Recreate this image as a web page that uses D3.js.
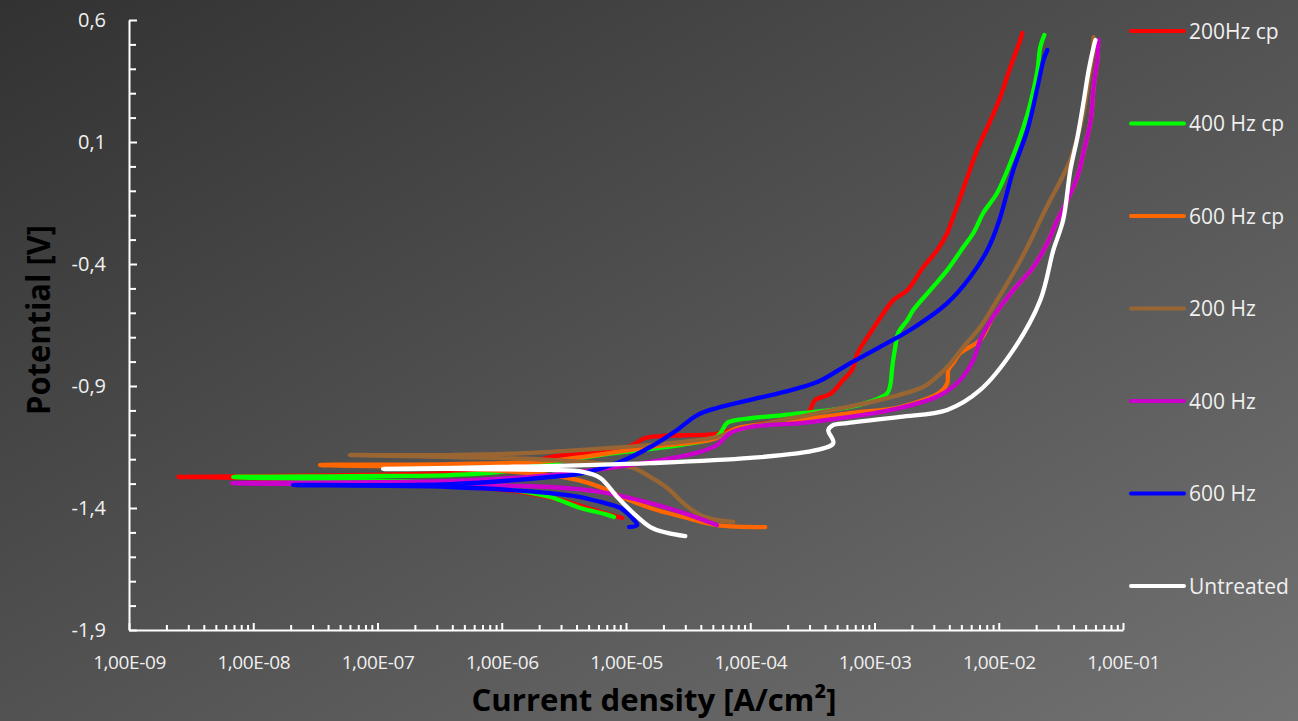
<!DOCTYPE html>
<html><head><meta charset="utf-8">
<script src="https://cdn.jsdelivr.net/npm/d3@7"></script>
<style>html,body{margin:0;padding:0;overflow:hidden;background:#444}</style>
</head><body><svg id="c" width="1298" height="721"></svg>
<script>
// ---- Data: current density [A/cm2] and potential [V], cathodic end -> Ecorr -> anodic end ----
const seriesNames = ["200Hz cp", "400 Hz cp", "600 Hz cp", "200 Hz", "400 Hz", "600 Hz", "Untreated"];
const seriesColors = ["#ff0000", "#00ff00", "#ff6600", "#996633", "#cc00cc", "#0000ff", "#ffffff"];

const cp200I = [9.3e-6, 6.2e-6, 2.95e-6, 1.41e-6, 6.7e-7, 2.2e-7, 6.0e-8, 1.64e-8, 3.7e-9, 2.5e-9,
  1.13e-8, 1.52e-7, 9.7e-7, 2.45e-6, 6.2e-6, 1.08e-5, 1.43e-5, 1.89e-5, 5.2e-5, 5.95e-5,
  1.2e-4, 2.88e-4, 3.34e-4, 4.4e-4, 5.6e-4, 6.6e-4, 7.3e-4, 8.8e-4, 1.11e-3, 1.42e-3,
  1.84e-3, 2.47e-3, 3.2e-3, 3.85e-3, 4.3e-3, 5.6e-3, 6.7e-3, 8.6e-3, 1.03e-2, 1.24e-2,
  1.49e-2, 1.55e-2];
const cp200E = [-1.441, -1.416, -1.367, -1.334, -1.318, -1.302, -1.289, -1.281, -1.273, -1.273,
  -1.269, -1.261, -1.244, -1.191, -1.170, -1.146, -1.113, -1.105, -1.097, -1.089,
  -1.056, -1.011, -0.957, -0.933, -0.875, -0.834, -0.765, -0.699, -0.621, -0.548,
  -0.507, -0.412, -0.343, -0.273, -0.207, -0.043, 0.067, 0.190, 0.284, 0.407,
  0.518, 0.547];

const cp400I = [8.0e-6, 6.8e-6, 4.3e-6, 2.45e-6, 9.7e-7, 3.84e-7, 6.0e-8, 6.9e-9,
  6.0e-8, 3.84e-7, 9.7e-7, 2.45e-6, 6.2e-6, 2.73e-5, 5.2e-5, 5.75e-5, 6.5e-5, 7.9e-5,
  1.84e-4, 6.4e-4, 1.05e-3, 1.27e-3, 1.34e-3, 1.39e-3, 1.47e-3, 1.55e-3, 1.84e-3, 2.05e-3,
  2.81e-3, 3.85e-3, 5.2e-3, 6.25e-3, 7.5e-3, 9.7e-3, 1.24e-2, 1.58e-2, 1.80e-2, 2.05e-2,
  2.16e-2, 2.33e-2];
const cp400E = [-1.437, -1.425, -1.400, -1.355, -1.318, -1.298, -1.285, -1.273,
  -1.269, -1.265, -1.252, -1.216, -1.183, -1.142, -1.113, -1.093, -1.052, -1.039,
  -1.019, -0.986, -0.953, -0.929, -0.896, -0.822, -0.740, -0.683, -0.630, -0.589,
  -0.507, -0.425, -0.330, -0.273, -0.191, -0.109, 0.014, 0.161, 0.260, 0.395,
  0.489, 0.539];

const cp600I = [1.32e-4, 5.4e-5, 2.89e-5, 1.57e-5, 8.5e-6, 6.2e-6, 4.05e-6, 2.45e-6, 3.84e-7, 3.45e-8,
  3.84e-7, 2.45e-6, 1.57e-5, 4.76e-5, 6.06e-5, 7.9e-5, 1.84e-4, 6.4e-4, 1.61e-3, 3.39e-3,
  3.85e-3, 3.93e-3, 4.3e-3, 4.9e-3, 7.1e-3, 9.0e-3, 1.31e-2, 1.9e-2, 2.46e-2, 2.96e-2,
  3.57e-2, 4.3e-2, 4.8e-2, 5.5e-2, 5.8e-2, 6.2e-2, 6.3e-2];
const cp600E = [-1.478, -1.470, -1.437, -1.400, -1.347, -1.314, -1.285, -1.265, -1.236, -1.224,
  -1.220, -1.207, -1.150, -1.121, -1.101, -1.072, -1.048, -1.011, -0.986, -0.925,
  -0.888, -0.834, -0.806, -0.765, -0.711, -0.617, -0.507, -0.412, -0.314, -0.220,
  -0.138, -0.043, 0.055, 0.190, 0.325, 0.436, 0.500];

const hz200I = [7.3e-5, 5.4e-5, 3.96e-5, 2.89e-5, 2.15e-5, 1.57e-5, 1.14e-5, 2.45e-6, 3.84e-7, 6.0e-8,
  3.84e-7, 2.45e-6, 5.4e-5, 7.9e-5, 3.46e-4, 1.11e-3, 2.47e-3, 2.97e-3, 3.85e-3, 5.2e-3,
  7.1e-3, 9.7e-3, 1.31e-2, 1.7e-2, 2.16e-2, 2.6e-2, 2.96e-2, 3.77e-2, 4.3e-2, 4.8e-2,
  5.3e-2, 5.7e-2, 5.8e-2];
const hz200E = [-1.457, -1.449, -1.429, -1.380, -1.318, -1.273, -1.236, -1.203, -1.191, -1.183,
  -1.183, -1.170, -1.109, -1.080, -1.011, -0.957, -0.904, -0.875, -0.822, -0.740,
  -0.658, -0.548, -0.437, -0.330, -0.220, -0.138, -0.084, 0.026, 0.120, 0.219,
  0.354, 0.465, 0.530];

const hz400I = [5.4e-5, 2.89e-5, 1.57e-5, 6.2e-6, 2.45e-6, 3.84e-7, 2.38e-8, 6.75e-9,
  3.84e-7, 2.45e-6, 1.57e-5, 3.96e-5, 5.4e-5, 6.9e-5, 1.0e-4, 3.04e-4, 1.61e-3, 3.39e-3,
  4.9e-3, 6.25e-3, 7.1e-3, 9.0e-3, 1.31e-2, 1.9e-2, 2.46e-2, 2.96e-2, 3.57e-2, 4.3e-2,
  4.8e-2, 5.5e-2, 5.8e-2, 6.2e-2, 6.35e-2];
const hz400E = [-1.470, -1.420, -1.380, -1.334, -1.314, -1.306, -1.302, -1.298,
  -1.289, -1.265, -1.211, -1.170, -1.142, -1.093, -1.068, -1.048, -0.990, -0.937,
  -0.875, -0.793, -0.711, -0.617, -0.507, -0.412, -0.314, -0.220, -0.138, -0.043,
  0.055, 0.190, 0.325, 0.436, 0.518];

const hz600I = [1.06e-5, 1.23e-5, 1.14e-5, 9.0e-6, 6.2e-6, 4.3e-6, 2.45e-6, 3.84e-7, 2.09e-8,
  3.84e-7, 2.45e-6, 4.5e-6, 8.5e-6, 1.57e-5, 2.58e-5, 3.75e-5, 5.4e-5, 1.0e-4, 1.84e-4,
  3.46e-4, 6.0e-4, 1.11e-3, 2.05e-3, 3.85e-3, 5.9e-3, 8.1e-3, 1.0e-2, 1.31e-2, 1.7e-2,
  2.05e-2, 2.29e-2, 2.46e-2];
const hz600E = [-1.478, -1.470, -1.445, -1.400, -1.375, -1.355, -1.339, -1.314, -1.306,
  -1.302, -1.273, -1.257, -1.216, -1.150, -1.080, -1.019, -0.990, -0.957, -0.925,
  -0.884, -0.814, -0.740, -0.662, -0.560, -0.453, -0.343, -0.228, -0.015, 0.149,
  0.325, 0.436, 0.477];

const untrI = [3.0e-5, 2.15e-5, 1.57e-5, 1.14e-5, 8.5e-6, 6.2e-6, 4.5e-6, 2.45e-6, 3.84e-7, 1.11e-7,
  9.7e-7, 1.57e-5, 1.0e-4, 3.46e-4, 4.66e-4, 4.25e-4, 4.66e-4, 6.0e-4, 1.61e-3, 3.85e-3,
  7.1e-3, 1.31e-2, 2.16e-2, 2.75e-2, 3.3e-2, 3.77e-2, 4.3e-2, 4.8e-2, 5.3e-2, 5.8e-2,
  6.0e-2];
const untrE = [-1.515, -1.502, -1.478, -1.420, -1.355, -1.277, -1.252, -1.244, -1.240, -1.240,
  -1.232, -1.216, -1.195, -1.162, -1.134, -1.080, -1.060, -1.052, -1.027, -0.998,
  -0.916, -0.752, -0.548, -0.343, -0.220, -0.015, 0.120, 0.260, 0.395, 0.489,
  0.518];

const xTickValues = [1e-9, 1e-8, 1e-7, 1e-6, 1e-5, 1e-4, 1e-3, 1e-2, 1e-1];
const xTickLabels = ["1,00E-09", "1,00E-08", "1,00E-07", "1,00E-06", "1,00E-05", "1,00E-04", "1,00E-03", "1,00E-02", "1,00E-01"];
const yTickValues = [-1.9, -1.4, -0.9, -0.4, 0.1, 0.6];
const yTickLabels = ["-1,9", "-1,4", "-0,9", "-0,4", "0,1", "0,6"];

// ---- Drawing ----
const W = 1298, H = 721;
const svg = d3.select("#c");
const defs = svg.append("defs");
const grad = defs.append("linearGradient").attr("id", "bg")
  .attr("x1", "0").attr("y1", "0").attr("x2", "1").attr("y2", "1");
grad.append("stop").attr("offset", "0").attr("stop-color", "#323232");
grad.append("stop").attr("offset", "1").attr("stop-color", "#727272");
svg.append("rect").attr("width", W).attr("height", H).attr("fill", "url(#bg)");

const x = d3.scaleLog().domain([1e-9, 1e-1]).range([129, 1123]);
const y = d3.scaleLinear().domain([-1.9, 0.6]).range([630, 20]);

const tickFont = "'Open Sans', 'DejaVu Sans', sans-serif";
const axisCol = "#ffffff";

// x axis
const xMinor = [];
for (let k = -9; k <= -2; k++) for (let m = 2; m <= 9; m++) xMinor.push(m * Math.pow(10, k));
const gx = svg.append("g").attr("transform", "translate(0,630)")
  .call(d3.axisBottom(x).tickValues(xTickValues).tickSize(-7).tickSizeOuter(0).tickPadding(26)
    .tickFormat((d, i) => xTickLabels[i]));
svg.append("g").attr("transform", "translate(0,630)")
  .call(d3.axisBottom(x).tickValues(xMinor).tickSize(-5).tickSizeOuter(0).tickFormat(""))
  .call(g => g.select(".domain").remove());

// y axis
const yMinor = d3.range(-18, 6).map(v => v / 10).filter(v => !yTickValues.some(t => Math.abs(t - v) < 1e-9));
const gy = svg.append("g").attr("transform", "translate(129,0)")
  .call(d3.axisLeft(y).tickValues(yTickValues).tickSize(-8).tickSizeOuter(0).tickPadding(23)
    .tickFormat((d, i) => yTickLabels[i]));
svg.append("g").attr("transform", "translate(129,0)")
  .call(d3.axisLeft(y).tickValues(yMinor).tickSize(-7).tickSizeOuter(0).tickFormat(""))
  .call(g => g.select(".domain").remove());

svg.selectAll(".domain, .tick line").attr("stroke", axisCol).attr("stroke-width", 2);
gx.selectAll("text").attr("fill", "#f0f0f0").attr("font-family", tickFont)
  .attr("font-size", 19).attr("letter-spacing", "-0.4px");
gy.selectAll("text").attr("fill", "#f0f0f0").attr("font-family", tickFont).attr("font-size", 20);

// curves
const allI = [cp200I, cp400I, cp600I, hz200I, hz400I, hz600I, untrI];
const allE = [cp200E, cp400E, cp600E, hz200E, hz400E, hz600E, untrE];
const series = seriesNames.map((n, i) => ({ name: n, color: seriesColors[i], pts: d3.zip(allI[i], allE[i]) }));

const line = d3.line().x(d => x(d[0])).y(d => y(d[1])).curve(d3.curveCatmullRom.alpha(0.5));
svg.append("g").selectAll("path").data(series).join("path")
  .attr("d", d => line(d.pts))
  .attr("fill", "none").attr("stroke", d => d.color)
  .attr("stroke-width", 4.3)
  .attr("stroke-linecap", "round").attr("stroke-linejoin", "round");

// legend
const lg = svg.append("g");
const rowY = d3.scalePoint().domain(seriesNames).range([31, 586]);
series.forEach(s => {
  const yy = rowY(s.name);
  lg.append("line").attr("x1", 1131).attr("x2", 1184).attr("y1", yy).attr("y2", yy)
    .attr("stroke", s.color).attr("stroke-width", 4).attr("stroke-linecap", "round");
  lg.append("text").attr("x", 1189).attr("y", yy).attr("dy", "0.36em")
    .attr("fill", "#f0f0f0").attr("font-family", tickFont).attr("font-size", 21).text(s.name);
});

// axis titles
svg.append("text").attr("x", 654).attr("y", 711).attr("text-anchor", "middle")
  .attr("font-family", tickFont).attr("font-weight", "bold").attr("font-size", 31)
  .attr("fill", "#000").attr("textLength", 365).attr("lengthAdjust", "spacingAndGlyphs")
  .text("Current density [A/cm²]");
svg.append("text").attr("transform", "translate(50,320) rotate(-90)").attr("text-anchor", "middle")
  .attr("font-family", tickFont).attr("font-weight", "bold").attr("font-size", 32)
  .attr("fill", "#000").attr("textLength", 190).attr("lengthAdjust", "spacingAndGlyphs")
  .text("Potential [V]");
</script>
</body></html>
